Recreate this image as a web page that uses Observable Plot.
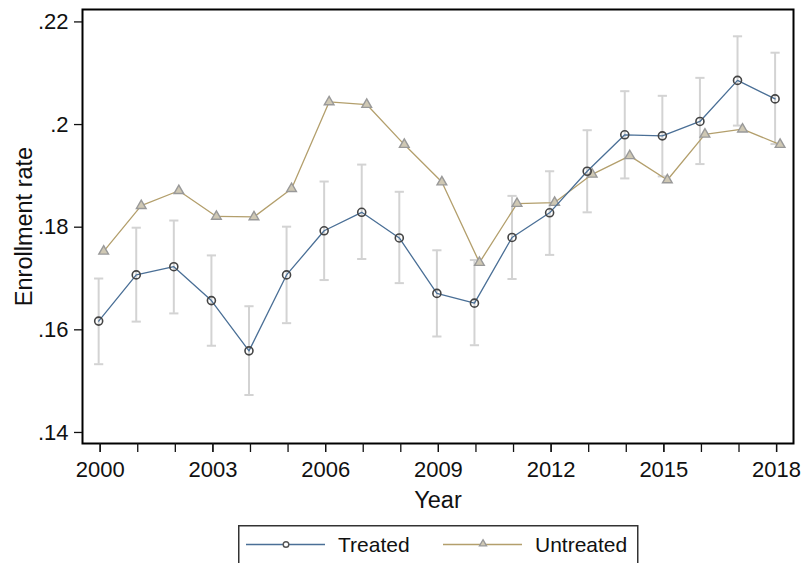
<!DOCTYPE html>
<html>
<head>
<meta charset="utf-8">
<script src="https://cdn.jsdelivr.net/npm/d3@7"></script>
<script src="https://cdn.jsdelivr.net/npm/@observablehq/plot@0.6"></script>
<style>
  html, body { margin: 0; padding: 0; background: #fff; }
  #wrap { position: relative; width: 801px; height: 563px; font-family: "Liberation Sans", Arial, sans-serif; }
  #legend { position: absolute; left: 238px; top: 525px; }
</style>
</head>
<body>
<div id="wrap"><div id="chart"></div><div id="legend"></div></div>
<script>
const years = [2000,2001,2002,2003,2004,2005,2006,2007,2008,2009,2010,2011,2012,2013,2014,2015,2016,2017,2018];
const treated   = [0.1617,0.1707,0.1723,0.1657,0.1559,0.1707,0.1793,0.1829,0.1779,0.1671,0.1652,0.1780,0.1828,0.1909,0.1980,0.1978,0.2006,0.2086,0.2050];
const treatedLo = [0.1533,0.1616,0.1632,0.1569,0.1473,0.1613,0.1697,0.1738,0.1691,0.1587,0.1570,0.1699,0.1746,0.1829,0.1895,0.1899,0.1923,0.1998,0.1962];
const treatedHi = [0.1700,0.1799,0.1813,0.1745,0.1646,0.1801,0.1889,0.1922,0.1869,0.1755,0.1736,0.1861,0.1909,0.1989,0.2065,0.2056,0.2091,0.2172,0.2140];
const untreated = [0.1753,0.1842,0.1871,0.1821,0.1820,0.1875,0.2044,0.2039,0.1961,0.1888,0.1731,0.1846,0.1848,0.1903,0.1939,0.1892,0.1981,0.1991,0.1961];
const yTicks = [0.14,0.16,0.18,0.20,0.22];
const xLabelTicks = [2000,2003,2006,2009,2012,2015,2018];
const seriesNames = ["Treated","Untreated"];
const seriesColors = ["#4a6f96","#b39f6c"];
const yTitle = "Enrollment rate";
const xTitle = "Year";

const tData = years.map((y,i) => ({year:y, value:treated[i], lo:treatedLo[i], hi:treatedHi[i]}));
const uData = years.map((y,i) => ({year:y, value:untreated[i]}));

const cap = { draw(ctx, size) { const r = Math.sqrt(size/Math.PI); ctx.moveTo(-r,0); ctx.lineTo(r,0); } };
const fmt = d => String(+d.toFixed(2)).replace(/^0/, "");
const ERR = "#d3d3d3";

const chart = Plot.plot({
  width: 801, height: 520,
  marginTop: 9, marginBottom: 77, marginLeft: 82, marginRight: 8,
  style: { fontFamily: '"Liberation Sans", Arial, sans-serif', fontSize: "22px", color: "#111", background: "#fff" },
  x: { domain: [1999.53, 2018.45] },
  y: { domain: [0.13785, 0.22242] },
  marks: [
    Plot.ruleX(tData, { x: "year", y1: "lo", y2: "hi", stroke: ERR, strokeWidth: 2, dx: -1.5 }),
    Plot.dot(tData, { x: "year", y: "lo", symbol: cap, r: 4.6, stroke: ERR, strokeWidth: 2, fill: "none", dx: -1.5 }),
    Plot.dot(tData, { x: "year", y: "hi", symbol: cap, r: 4.6, stroke: ERR, strokeWidth: 2, fill: "none", dx: -1.5 }),
    Plot.line(uData, { x: "year", y: "value", stroke: seriesColors[1], strokeWidth: 1.3, dx: 3.5 }),
    Plot.dot(uData, { x: "year", y: "value", symbol: "triangle", r: 3.6, stroke: "#999", strokeWidth: 1.4, fill: "#cfc8b4", dx: 3.5 }),
    Plot.line(tData, { x: "year", y: "value", stroke: seriesColors[0], strokeWidth: 1.3, dx: -1.5 }),
    Plot.dot(tData, { x: "year", y: "value", r: 4, stroke: "#444", strokeWidth: 1.6, fill: "none", dx: -1.5 }),
    Plot.frame({ stroke: "#000", strokeWidth: 2 }),
    Plot.axisX({ ticks: years, tickSize: 9, tickFormat: () => "", label: null, strokeWidth: 1.3 }),
    Plot.axisX({ ticks: xLabelTicks, tickSize: 9, tickPadding: 9, tickFormat: d => String(d), label: null, fontSize: 22, strokeWidth: 1.3 }),
    Plot.axisY({ ticks: yTicks, tickSize: 8, tickPadding: 6, tickFormat: fmt, label: null, fontSize: 22, strokeWidth: 1.3 }),
    Plot.text([yTitle], { text: d => d, frameAnchor: "left", textAnchor: "middle", rotate: -90, dx: -58, fontSize: 23.5, fill: "#111" }),
    Plot.text([xTitle], { text: d => d, frameAnchor: "bottom", textAnchor: "middle", dy: 64, fontSize: 23.5, fill: "#111" })
  ]
});
document.getElementById("chart").appendChild(chart);

// Legend
const lg = d3.select("#legend").append("svg").attr("width", 401).attr("height", 38)
  .style("font-family", '"Liberation Sans", Arial, sans-serif');
lg.append("rect").attr("x", 0.75).attr("y", 0.75).attr("width", 399).attr("height", 40)
  .attr("fill", "#fff").attr("stroke", "#333").attr("stroke-width", 1.5);
const items = [
  { name: seriesNames[0], color: seriesColors[0], x0: 8, sym: "circle" },
  { name: seriesNames[1], color: seriesColors[1], x0: 205, sym: "triangle" }
];
items.forEach(it => {
  const g = lg.append("g");
  g.append("line").attr("x1", it.x0).attr("x2", it.x0 + 79).attr("y1", 19.5).attr("y2", 19.5)
    .attr("stroke", it.color).attr("stroke-width", 1.3);
  const cx = it.x0 + 40;
  if (it.sym === "circle") {
    g.append("circle").attr("cx", cx).attr("cy", 19.5).attr("r", 2.8).attr("fill", "#fff").attr("stroke", "#555").attr("stroke-width", 1.4);
  } else {
    g.append("path").attr("transform", `translate(${cx},18.8)`)
      .attr("d", d3.symbol(d3.symbolTriangle, 22)()).attr("fill", "#cfc8b4").attr("stroke", "#999").attr("stroke-width", 1.3);
  }
  g.append("text").attr("x", it.x0 + 92).attr("y", 19.5).attr("dy", "0.35em")
    .attr("font-size", 21).attr("fill", "#111").text(it.name);
});
</script>
</body>
</html>
